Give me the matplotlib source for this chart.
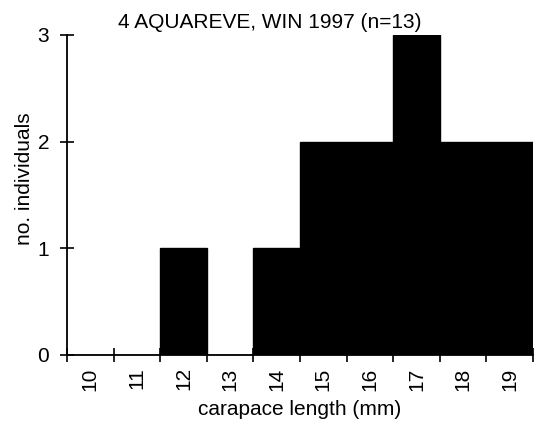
import matplotlib
matplotlib.use("Agg")
import matplotlib.pyplot as plt
import numpy as np

plt.rcParams['font.family'] = ['Liberation Sans', 'DejaVu Sans']

lengths = [10, 11, 12, 13, 14, 15, 16, 17, 18, 19]
counts = [0, 0, 1, 0, 1, 2, 2, 3, 2, 2]
title = "4 AQUAREVE, WIN 1997 (n=13)"

fig = plt.figure(figsize=(5.41, 4.26), dpi=100)
ax = fig.add_axes([0.124, 0.167, 0.861, 0.751])

ax.bar(lengths, counts, width=1, align='edge', color='black', edgecolor='black', linewidth=1)
ax.set_xlim(10, 20)
ax.set_ylim(0, 3)

ax.set_xticks(np.arange(10, 21))
ax.set_xticklabels([])
ax.set_xticks(np.array(lengths) + 0.5, minor=True)
ax.set_xticklabels([str(v) for v in lengths], minor=True, rotation=90, fontsize=15)
ax.tick_params(axis='x', which='major', direction='inout', length=10, width=1.2)
ax.tick_params(axis='x', which='minor', length=0, pad=9)

ax.set_yticks([0, 1, 2, 3])
ax.set_yticklabels(['0', '1', '2', '3'], fontsize=15)
ax.tick_params(axis='y', direction='inout', length=10, width=1.2, pad=8)

for s in ['top', 'right']:
    ax.spines[s].set_visible(False)
ax.spines['left'].set_linewidth(1.3)
ax.spines['bottom'].set_linewidth(1.3)

ax.set_xlabel('carapace length (mm)', fontsize=15, labelpad=7)
ax.set_ylabel('no. individuals', fontsize=15)
ax.yaxis.set_label_coords(-0.072, 0.55)
fig.text(270 / 541, 1 - 22 / 426, title, fontsize=15, ha='center', va='center')

fig.savefig('out.png', dpi=100)
